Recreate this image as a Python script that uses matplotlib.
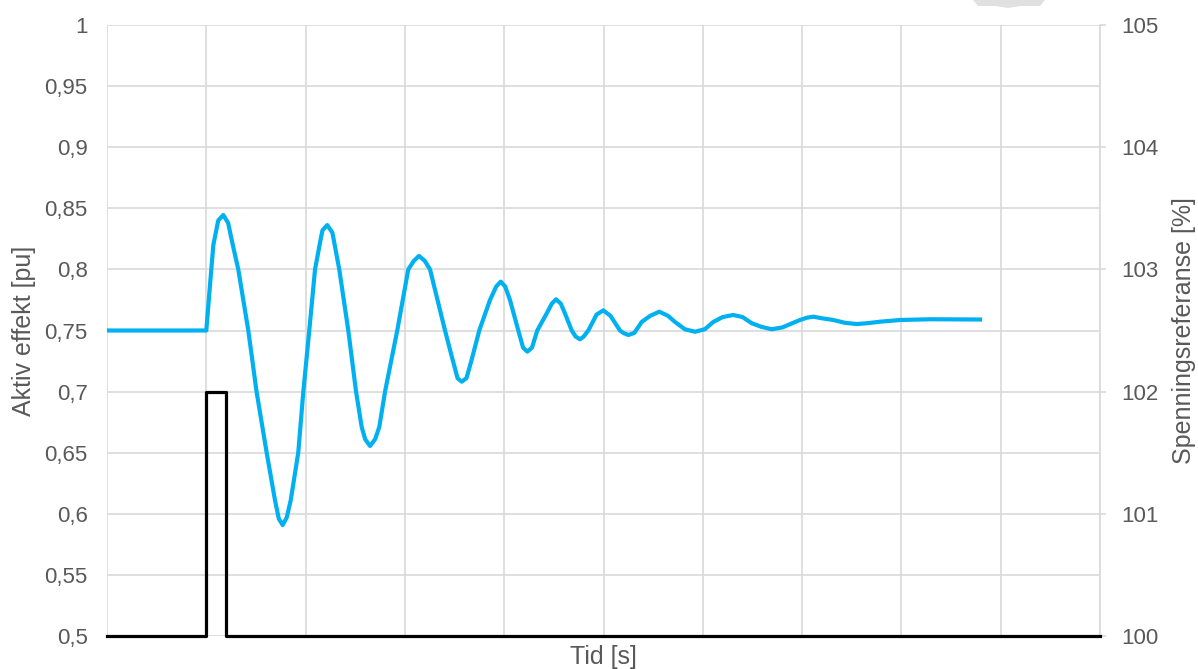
import matplotlib.pyplot as plt
from matplotlib.patches import Polygon

# Aktiv effekt [pu] (time in grid units)
time_s = [0.0, 1.0, 1.035, 1.071, 1.12, 1.171, 1.22, 1.256, 1.322, 1.423, 1.506, 1.608, 1.692, 1.73,
          1.769, 1.81, 1.850, 1.926, 1.977, 2.037, 2.095, 2.150, 2.17, 2.218, 2.27, 2.339, 2.430,
          2.508, 2.565, 2.60, 2.649, 2.70, 2.742, 2.800, 2.923, 3.034, 3.09, 3.142, 3.20, 3.253,
          3.404, 3.481, 3.53, 3.572, 3.62, 3.672, 3.749, 3.857, 3.92, 3.965, 4.01, 4.058, 4.142,
          4.19, 4.233, 4.28, 4.333, 4.428, 4.48, 4.522, 4.57, 4.612, 4.680, 4.72, 4.763, 4.80,
          4.847, 4.93, 4.998, 5.07, 5.166, 5.20, 5.250, 5.31, 5.385, 5.47, 5.562, 5.65, 5.720,
          5.82, 5.921, 6.02, 6.106, 6.20, 6.307, 6.40, 6.492, 6.59, 6.694, 6.80, 6.979, 7.05,
          7.113, 7.20, 7.314, 7.43, 7.550, 7.66, 7.785, 7.986, 8.288, 8.792]
active_power = [0.75, 0.75, 0.785, 0.820, 0.840, 0.8445, 0.838, 0.824, 0.800, 0.750, 0.700, 0.650, 0.611, 0.596,
                0.5908, 0.597, 0.611, 0.650, 0.700, 0.750, 0.800, 0.824, 0.832, 0.8363, 0.830, 0.800, 0.750,
                0.700, 0.671, 0.661, 0.6555, 0.661, 0.671, 0.700, 0.750, 0.800, 0.807, 0.811, 0.807, 0.800,
                0.750, 0.726, 0.711, 0.7081, 0.711, 0.726, 0.750, 0.775, 0.786, 0.790, 0.786, 0.775, 0.750,
                0.736, 0.7327, 0.736, 0.750, 0.764, 0.772, 0.7755, 0.772, 0.764, 0.750, 0.745, 0.7428, 0.745,
                0.750, 0.763, 0.7665, 0.762, 0.750, 0.748, 0.7463, 0.748, 0.757, 0.762, 0.7654, 0.762, 0.757,
                0.751, 0.749, 0.751, 0.757, 0.761, 0.7627, 0.761, 0.756, 0.753, 0.751, 0.7525, 0.7586, 0.7605,
                0.7613, 0.760, 0.7586, 0.7563, 0.7553, 0.756, 0.7572, 0.7586, 0.7592, 0.7590]

# Spenningsreferanse [%] step
pulse_time = [0.0, 1.0, 1.0, 1.2, 1.2, 10.0]
pulse_ref = [100, 100, 102, 102, 100, 100]

left_ticks = [0.5, 0.55, 0.6, 0.65, 0.7, 0.75, 0.8, 0.85, 0.9, 0.95, 1.0]
left_labels = ["0,5", "0,55", "0,6", "0,65", "0,7", "0,75", "0,8", "0,85", "0,9", "0,95", "1"]
right_ticks = [100, 101, 102, 103, 104, 105]

plt.rcParams['font.family'] = ['Liberation Sans', 'DejaVu Sans']
text_col = '#595959'
grid_col = '#d9d9d9'

fig = plt.figure(figsize=(11.98, 6.69), dpi=100)
ax = fig.add_axes([107/1198, 33/669, 993/1198, 611/669])

ax.set_xlim(0, 10)
ax.set_ylim(0.5, 1.0)
ax.set_xticks(range(0, 11))
ax.set_xticklabels([])
ax.set_yticks(left_ticks)
ax.set_yticklabels(left_labels)
ax.tick_params(axis='both', length=0, labelsize=16, labelcolor=text_col)
ax.tick_params(axis='y', pad=14)
ax.grid(True, color=grid_col, linewidth=1.2)
ax.set_axisbelow(True)
for s in ax.spines.values():
    s.set_visible(False)

ax.plot(time_s, active_power, color='#00B0F0', linewidth=3.0, solid_joinstyle='round', zorder=3)
ax.set_ylabel("Aktiv effekt [pu]", fontsize=18, color=text_col, va='center')
ax.yaxis.set_label_coords(-83/993, 0.5)
ax.set_xlabel("Tid [s]", fontsize=18, color=text_col, va='center')
ax.xaxis.set_label_coords(0.5, -21/611)

ax2 = ax.twinx()
ax2.set_ylim(100, 105)
ax2.set_yticks(right_ticks)
ax2.tick_params(axis='y', length=4.5, width=1.2, color=grid_col, labelsize=16,
                labelcolor=text_col, pad=11)
for k, s in ax2.spines.items():
    s.set_visible(k == 'right')
ax2.spines['right'].set_color(grid_col)
ax2.spines['right'].set_linewidth(1.2)
ax2.plot(pulse_time, pulse_ref, color='black', linewidth=2.3, clip_on=False, zorder=4)
ax2.set_ylabel("Spenningsreferanse [%]", fontsize=18, color=text_col, va='center')
ax2.yaxis.set_label_coords(1 + 84/993, 0.5)

# light grey fragment at the top edge
pts = [(973, 0), (1045, 0), (1040, 6), (1020, 6), (1008, 8), (996, 6), (978, 6)]
fig.patches.append(Polygon([(x / 1198, 1 - y / 669) for x, y in pts], closed=True,
                           transform=fig.transFigure, facecolor='#e0e0e0', edgecolor='none'))

fig.savefig("out.png", dpi=100)
